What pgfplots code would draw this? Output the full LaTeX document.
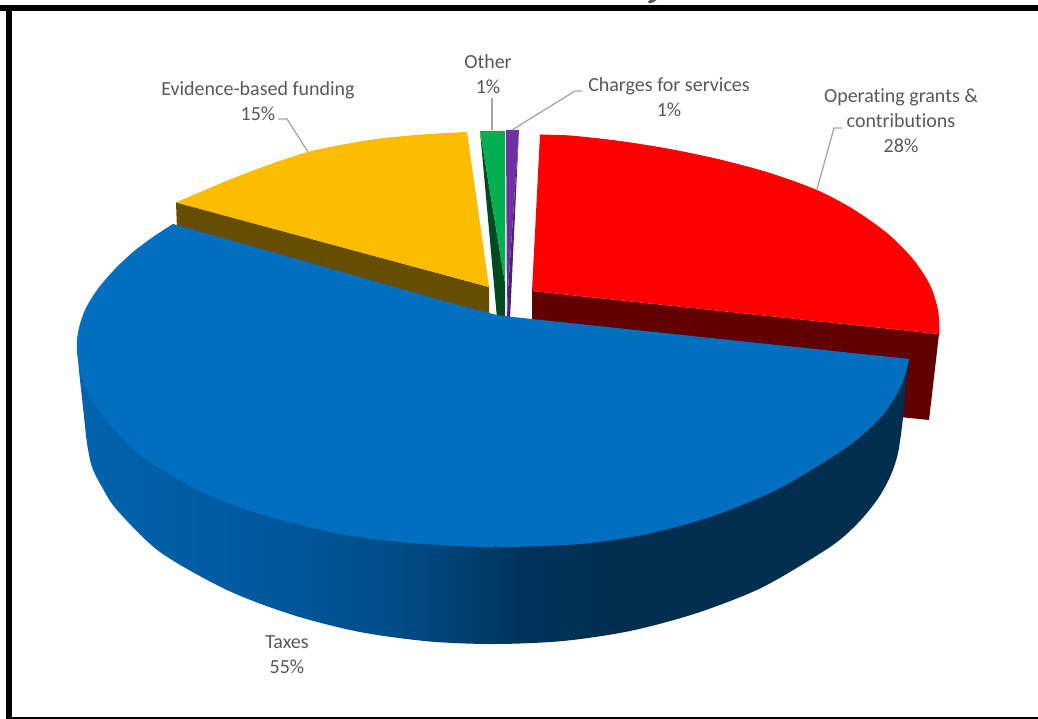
\documentclass[border=0pt]{standalone}
\usepackage{fontspec}
\setmainfont[Ligatures=NoCommon]{Carlito}
\usepackage{pgfplots}
\pgfplotsset{compat=1.18}

\definecolor{labelgrey}{HTML}{595959}
\definecolor{leadergrey}{HTML}{A6A6A6}
\definecolor{taxtop}{HTML}{006FBF}
\definecolor{grantstop}{HTML}{FF0000}
\definecolor{grantswall}{HTML}{610000}
\definecolor{fundingtop}{HTML}{FCBD00}
\definecolor{fundingwall}{HTML}{664E00}
\definecolor{othertop}{HTML}{00AF50}
\definecolor{otherwall}{HTML}{004A22}
\definecolor{chargestop}{HTML}{7030A0}
\definecolor{chargeswall}{HTML}{4C2270}

% Rim of the Taxes slice: lighter on the left, darkest towards the right.
% TikZ fits a path's bounding box to the 25bp--75bp span of a shading.
\pgfdeclarehorizontalshading{taxwall}{100bp}{
  rgb(0bp)=(0,.388,.678);
  rgb(25bp)=(0,.388,.678);
  rgb(32.5bp)=(0,.361,.635);
  rgb(38.5bp)=(0,.337,.596);
  rgb(44.5bp)=(0,.298,.525);
  rgb(48.5bp)=(0,.247,.439);
  rgb(51.5bp)=(0,.204,.361);
  rgb(57.5bp)=(0,.18,.31);
  rgb(100bp)=(0,.18,.31)}

\begin{document}
\begin{tikzpicture}
\begin{axis}[
  scale only axis, width=1038pt, height=719pt,
  xmin=0, xmax=1038, ymin=0, ymax=719, y dir=reverse,
  hide axis,
  every axis plot/.append style={draw=none},
  every node/.append style={inner sep=0pt},
]
% page background and frame
\addplot[fill=white] coordinates {(0,0) (1038,0) (1038,719) (0,719)} -- cycle;
\addplot[fill=black] coordinates {(0,5) (1038,5) (1038,11.5) (0,11.5)} -- cycle;
\addplot[fill=black] coordinates {(6,5) (12,5) (12,719) (6,719)} -- cycle;
\addplot[fill=black] coordinates {(6,717) (1038,717) (1038,719) (6,719)} -- cycle;
% foot of the heading letter that runs off the top edge
\addplot[fill=labelgrey] coordinates {(648,1.5) (650,0) (656.5,0) (653,2.5) (649,3.5)} -- cycle;

% Operating grants & contributions
\addplot[fill=grantswall] coordinates {(532,291) (939,334) (929,420) (900,417) (532,322)} -- cycle;
\addplot[fill=grantstop, smooth] coordinates {(540,134.7) (570,135.5) (620,141) (670,149) (720,159.5) (770,173)
  (817,190) (853,209) (887,233) (913,259) (930,285) (938,310) (939.5,334)} -- cycle;
\addplot[fill=grantstop] coordinates {(540,134.7) (600,140) (700,157) (817,192) (900,250) (939,334) (532,291)} -- cycle;

% Evidence-based funding
\addplot[fill=fundingwall] coordinates {(176,202) (489,287) (489,318) (177,230)} -- cycle;
\addplot[fill=fundingtop, smooth] coordinates {(467,132) (423,134.5) (373,139.5) (308,152) (240,175.5) (176,202.5)} -- cycle;
\addplot[fill=fundingtop] coordinates {(467,132) (373,141) (240,177) (176,202.5) (489,287)} -- cycle;

% Other
\addplot[fill=otherwall] coordinates {(480,131) (505,283) (505,318) (497,318)} -- cycle;
\addplot[fill=othertop] coordinates {(480,131) (505,131) (505,283)} -- cycle;

% Charges for services
\addplot[fill=chargeswall] coordinates {(519,130) (510,319) (507,319) (508,290)} -- cycle;
\addplot[fill=chargestop] coordinates {(506,130) (519,130) (508,290) (507,319)} -- cycle;

% Taxes: rim
\addplot[shading=taxwall, smooth] coordinates {(909,359) (905.5,389) (903,418) (898,453) (890,477) (877,500)
  (857,524) (830,547) (763,587) (697,613) (630,631) (563,641) (495,644) (430,641.5) (360,632) (293,615)
  (227,590) (160,552) (117,510) (102,487) (92,467) (87,443) (83,407) (80,380) (77,350)} -- cycle;
% Taxes: top face, the two outer arcs and the flat part between them
\addplot[fill=taxtop, smooth] coordinates {(909.3,359) (901,386) (882,416) (847,447) (780,488) (713,516)
  (647,534) (580,544) (495,547.5)} -- cycle;
\addplot[fill=taxtop, smooth] coordinates {(495,547.5) (410,543) (335,533) (260,514) (200,491) (143,457)
  (105,419) (84,383) (77,350) (78.5,330) (85,310) (97,290) (114,270) (133,252) (153,237) (173,224)} -- cycle;
\addplot[fill=taxtop] coordinates {(173,224) (300,260) (440,300) (490,313.3) (497,315) (510,316.7) (532,319)
  (730,340) (909.3,359) (800,465) (600,538) (495,546) (300,520) (150,450) (90,350)} -- cycle;

% leader lines
\addplot[draw=leadergrey, line width=1.3pt] coordinates {(492,98) (492,130)};
\addplot[draw=leadergrey, line width=1.3pt] coordinates {(512,130) (575,91) (582,91)};
\addplot[draw=leadergrey, line width=1.3pt] coordinates {(817,189) (834,128) (842,128)};
\addplot[draw=leadergrey, line width=1.3pt] coordinates {(308,152) (287,119) (278,119)};

% data labels
\begin{scope}[every node/.style={align=center, text=labelgrey, font=\fontsize{20}{25}\selectfont}]
  \node at (axis cs:488,74.5) {Other\\1\%};
  \node at (axis cs:669,97.5) {Charges for services\\1\%};
  \node at (axis cs:901,120.5) {Operating grants \&\\contributions\\28\%};
  \node at (axis cs:258,101) {Evidence-based funding\\15\%};
  \node at (axis cs:287,654.5) {Taxes\\55\%};
\end{scope}
\end{axis}
\end{tikzpicture}
\end{document}
